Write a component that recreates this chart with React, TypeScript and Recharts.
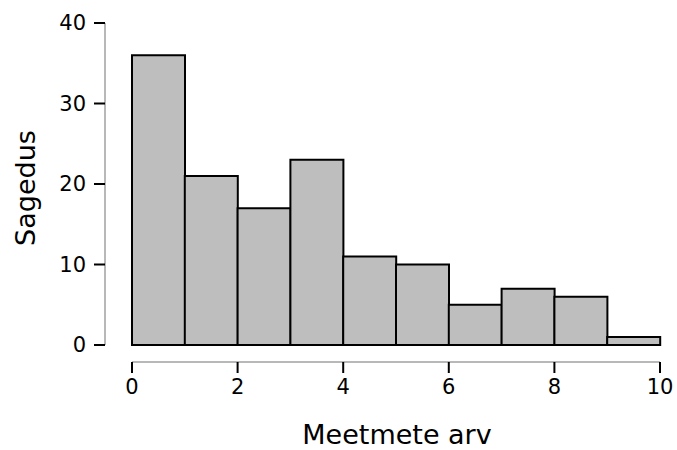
import React from 'react';
import { BarChart, Bar, XAxis, YAxis } from 'recharts';

const binStarts = [0, 1, 2, 3, 4, 5, 6, 7, 8, 9];
const counts = [36, 21, 17, 23, 11, 10, 5, 7, 6, 1];
const xTicks = [0, 2, 4, 6, 8, 10];
const yTicks = [0, 10, 20, 30, 40];
const xTitle = 'Meetmete arv';
const yTitle = 'Sagedus';

const data = binStarts.map((s, i) => ({ bin: `${s}-${s + 1}`, start: s, count: counts[i] }));

const FONT = '"DejaVu Sans", sans-serif';

export default function App() {
  return (
    <div style={{ position: 'absolute', left: 0, top: 0 }}>
      <BarChart
        width={677}
        height={450}
        data={data}
        margin={{ top: 23, right: 17, left: 0, bottom: 0 }}
        barCategoryGap={0}
        style={{ fontFamily: FONT }}
      >
        <XAxis xAxisId="cat" dataKey="bin" height={17} tick={false} axisLine={false} tickLine={false} />
        <XAxis
          xAxisId="num"
          type="number"
          dataKey="start"
          domain={[0, 10]}
          allowDataOverflow
          ticks={xTicks}
          interval={0}
          height={88}
          tickSize={11}
          tickMargin={6}
          axisLine={{ stroke: '#a0a0a0', strokeWidth: 1.5 }}
          tickLine={{ stroke: '#000', strokeWidth: 2 }}
          tick={{ fill: '#000', fontSize: 21, fontFamily: FONT }}
          label={{
            content: (p: any) => {
              const vb = p.viewBox || {};
              return (
                <text x={vb.x + vb.width / 2 + 1} y={444} textAnchor="middle" fontSize={27} fontFamily={FONT} fill="#000">
                  {xTitle}
                </text>
              );
            },
          }}
        />
        <YAxis yAxisId="sp" width={27} tick={false} axisLine={false} tickLine={false} />
        <YAxis
          yAxisId="val"
          type="number"
          domain={[0, 40]}
          ticks={yTicks}
          interval={0}
          width={105}
          tickSize={11}
          tickMargin={8}
          axisLine={{ stroke: '#a0a0a0', strokeWidth: 1.5 }}
          tickLine={{ stroke: '#000', strokeWidth: 2 }}
          tick={{ fill: '#000', fontSize: 21, fontFamily: FONT }}
          label={{
            content: (p: any) => {
              const vb = p.viewBox || {};
              const cy = vb.y + vb.height / 2 + 4;
              return (
                <text x={35} y={cy} textAnchor="middle" fontSize={27} fontFamily={FONT} fill="#000" transform={`rotate(-90, 35, ${cy})`}>
                  {yTitle}
                </text>
              );
            },
          }}
        />
        <Bar xAxisId="cat" yAxisId="val" dataKey="count" fill="#bebebe" stroke="#000" strokeWidth={2} isAnimationActive={false} />
      </BarChart>
    </div>
  );
}
